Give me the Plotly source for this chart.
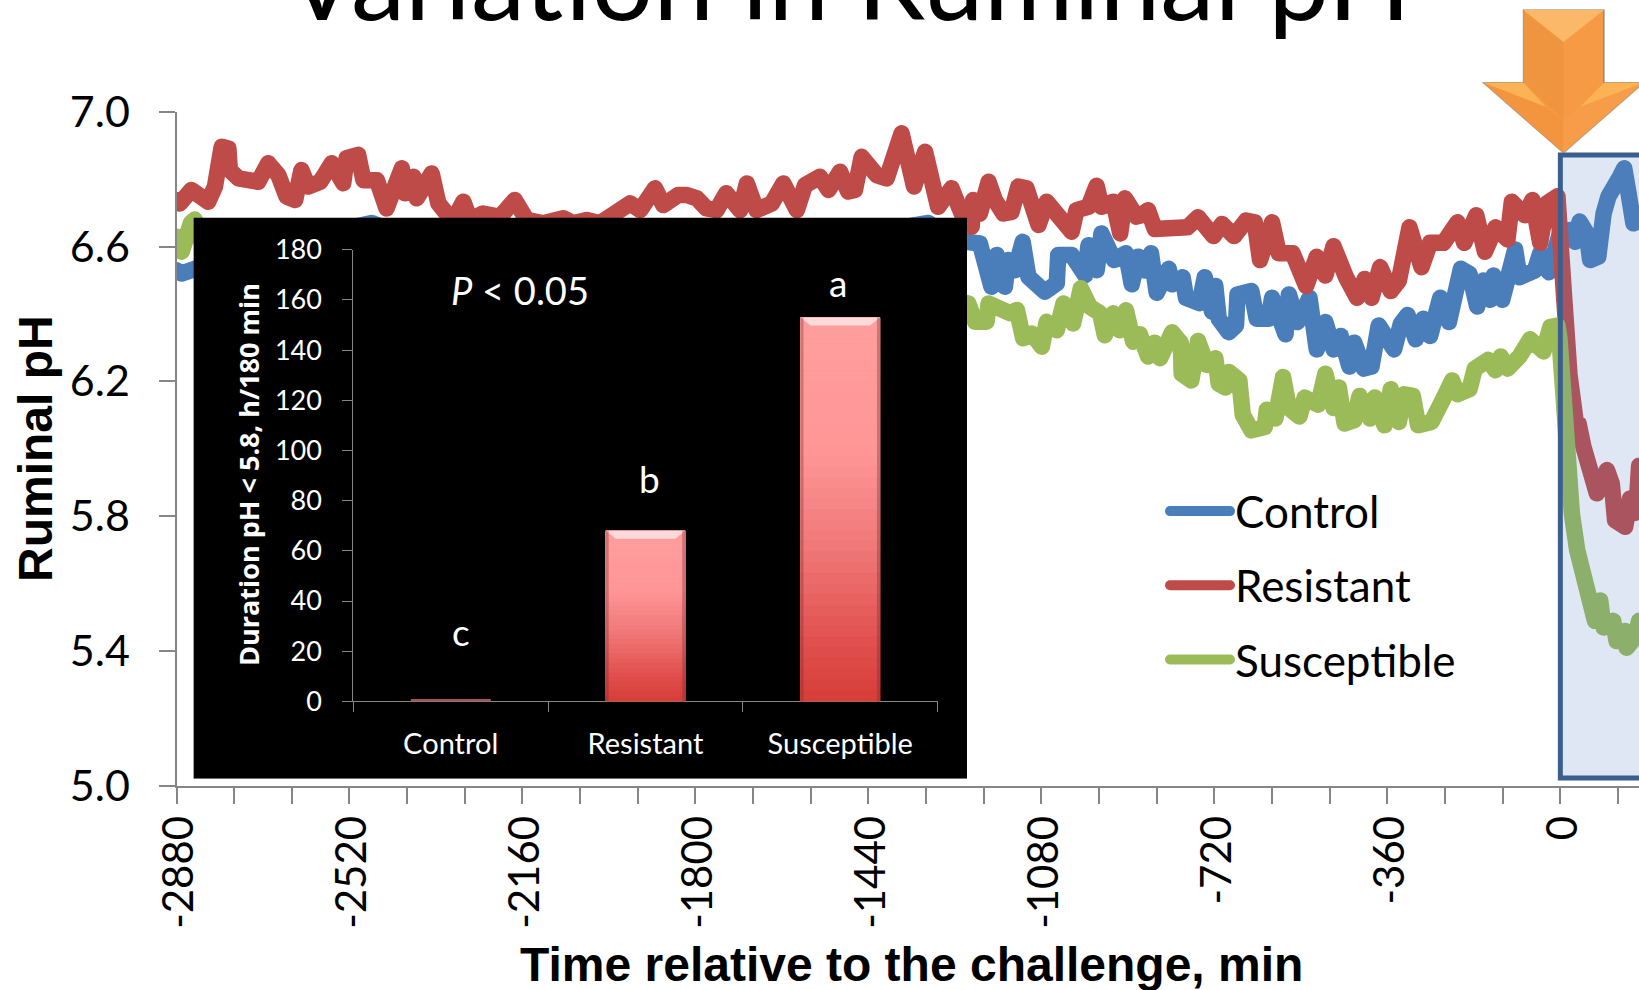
import plotly.graph_objects as go

# ---- data ----
control_t = [-2881,-2869,-2849,-2700,-2474,-2300,-1800,-1315,-1270,-1232,-1208,-1184,-1173,-1156,-1149,-1135,-1119,-1107,-1073,-1048,-1045,-1017,-989,-982,-965,-955,-937,-929,-904,-892,-879,-865,-852,-840,-815,-808,-786,-779,-751,-740,-725,-718,-711,-690,-675,-672,-643,-632,-607,-600,-572,-565,-547,-522,-507,-489,-472,-457,-439,-429,-409,-393,-378,-346,-332,-318,-301,-285,-271,-250,-232,-207,-189,-173,-160,-146,-139,-121,-94,-85,-53,-42,-24,-10,-1,20,31,40,55,62,79,90,100,124,133,142,152,164]
control_ph = [6.53,6.52,6.53,6.60,6.67,6.58,6.55,6.67,6.62,6.609,6.609,6.481,6.575,6.481,6.560,6.530,6.614,6.510,6.466,6.491,6.575,6.575,6.515,6.604,6.530,6.639,6.570,6.560,6.580,6.488,6.570,6.529,6.580,6.463,6.534,6.488,6.509,6.448,6.432,6.509,6.407,6.483,6.386,6.346,6.366,6.458,6.468,6.386,6.386,6.448,6.340,6.458,6.376,6.448,6.295,6.376,6.295,6.335,6.244,6.315,6.238,6.244,6.366,6.295,6.371,6.397,6.325,6.386,6.335,6.448,6.376,6.534,6.519,6.422,6.499,6.442,6.514,6.442,6.591,6.509,6.529,6.580,6.524,6.601,6.639,6.649,6.614,6.674,6.639,6.560,6.570,6.698,6.748,6.807,6.832,6.758,6.669,6.679]

resistant_t = [-2881,-2873,-2849,-2831,-2814,-2800,-2786,-2772,-2769,-2751,-2734,-2710,-2689,-2668,-2651,-2633,-2620,-2606,-2581,-2557,-2533,-2526,-2502,-2491,-2463,-2450,-2443,-2411,-2405,-2387,-2380,-2349,-2335,-2318,-2300,-2283,-2269,-2242,-2207,-2176,-2151,-2117,-2075,-2054,-2026,-1999,-1964,-1936,-1915,-1884,-1867,-1836,-1818,-1797,-1777,-1756,-1736,-1707,-1693,-1673,-1641,-1617,-1589,-1572,-1541,-1523,-1499,-1482,-1468,-1454,-1423,-1402,-1371,-1360,-1345,-1322,-1305,-1295,-1267,-1246,-1225,-1222,-1208,-1190,-1177,-1159,-1142,-1128,-1111,-1086,-1069,-1041,-1017,-1007,-982,-965,-955,-930,-916,-906,-882,-872,-858,-844,-822,-804,-776,-754,-733,-722,-704,-679,-654,-636,-625,-600,-586,-557,-529,-507,-489,-472,-446,-423,-407,-393,-375,-353,-336,-314,-289,-271,-243,-214,-200,-175,-157,-135,-110,-101,-74,-58,-42,-28,-6,-1,8,19,33,38,48,55,69,76,97,107,114,135,145,155,160,164]
resistant_ph = [6.738,6.728,6.768,6.748,6.733,6.778,6.896,6.891,6.827,6.802,6.797,6.792,6.847,6.812,6.748,6.738,6.827,6.778,6.792,6.847,6.788,6.862,6.872,6.797,6.797,6.738,6.713,6.832,6.758,6.807,6.743,6.817,6.728,6.698,6.688,6.733,6.679,6.698,6.688,6.738,6.679,6.669,6.684,6.669,6.679,6.669,6.698,6.728,6.708,6.773,6.723,6.753,6.753,6.743,6.713,6.708,6.758,6.708,6.787,6.708,6.728,6.787,6.708,6.782,6.807,6.768,6.822,6.763,6.768,6.866,6.812,6.802,6.936,6.871,6.778,6.881,6.787,6.718,6.773,6.698,6.659,6.738,6.698,6.792,6.738,6.698,6.703,6.778,6.773,6.664,6.733,6.679,6.644,6.708,6.718,6.780,6.718,6.733,6.639,6.743,6.689,6.693,6.708,6.652,6.657,6.654,6.657,6.687,6.657,6.631,6.667,6.631,6.677,6.672,6.560,6.672,6.580,6.580,6.483,6.570,6.514,6.601,6.509,6.448,6.504,6.448,6.539,6.468,6.499,6.657,6.539,6.611,6.611,6.672,6.611,6.693,6.585,6.657,6.621,6.733,6.693,6.738,6.611,6.728,6.749,6.58,6.447,6.22,6.07,6.075,6.006,5.957,5.907,5.868,5.937,5.897,5.788,5.769,5.853,5.81,5.86,5.95]

susceptible_t = [-2881,-2869,-2850,-2842,-2825,-2600,-2300,-1900,-1500,-1260,-1232,-1218,-1194,-1190,-1166,-1145,-1131,-1118,-1100,-1079,-1069,-1048,-1034,-1014,-998,-979,-958,-948,-930,-917,-904,-889,-875,-858,-844,-833,-808,-790,-788,-768,-754,-736,-718,-711,-697,-690,-668,-661,-643,-615,-611,-593,-577,-565,-543,-532,-504,-489,-472,-461,-449,-429,-418,-396,-386,-366,-353,-336,-325,-307,-296,-268,-243,-225,-214,-189,-178,-150,-135,-124,-110,-85,-63,-35,-21,-6,-2,4,12,24,35,49,58,72,83,90,110,117,135,138,155,164]
susceptible_ph = [6.63,6.585,6.67,6.68,6.60,6.55,6.50,6.47,6.45,6.44,6.431,6.377,6.377,6.431,6.417,6.402,6.412,6.328,6.342,6.303,6.377,6.352,6.431,6.372,6.476,6.421,6.402,6.337,6.402,6.352,6.411,6.318,6.340,6.274,6.315,6.269,6.346,6.315,6.223,6.203,6.320,6.249,6.269,6.193,6.182,6.228,6.203,6.101,6.055,6.065,6.116,6.090,6.213,6.121,6.096,6.152,6.131,6.223,6.121,6.182,6.075,6.085,6.157,6.090,6.152,6.070,6.177,6.080,6.162,6.157,6.070,6.080,6.150,6.203,6.162,6.177,6.238,6.264,6.233,6.274,6.238,6.274,6.325,6.289,6.361,6.366,6.33,6.154,6.006,5.808,5.70,5.61,5.54,5.49,5.55,5.47,5.49,5.43,5.46,5.41,5.44,5.49]

inset_categories = ["Control", "Resistant", "Susceptible"]
inset_minutes = [1, 68, 153]
inset_letters = ["c", "b", "a"]
inset_letter_heights = [28, 89, 167]

x_ticks = list(range(-2880, 161, 120))
y_ticks = [5.0, 5.4, 5.8, 6.2, 6.6, 7.0]
inset_ticks = list(range(0, 181, 20))

# ---- page geometry (pixels) ----
W, H = 1639, 990
def px(x): return x / W
def py(y): return 1 - y / H

BLUE, RED, GREEN = "#4A7EBB", "#BE4B48", "#9BBB59"
GREY = "#868686"
BODY = "Lato"
HEAD = "Liberation Sans"

fig = go.Figure()
for name, t, ph, col in [("Control", control_t, control_ph, BLUE),
                         ("Resistant", resistant_t, resistant_ph, RED),
                         ("Susceptible", susceptible_t, susceptible_ph, GREEN)]:
    fig.add_trace(go.Scatter(x=t, y=ph, name=name, mode="lines", legendgroup=name,
                             line=dict(color=col, width=16.5), hoverinfo="skip",
                             xaxis="x", yaxis="y"))

# black panel of the inset: a filled trace on its own subplot, above the main lines
fig.add_trace(go.Scatter(x=[0, 1, 1, 0, 0], y=[0, 0, 1, 1, 0], mode="none", fill="toself",
                         fillcolor="#000000", showlegend=False, hoverinfo="skip",
                         xaxis="x2", yaxis="y2"))
fig.add_trace(go.Bar(x=inset_categories, y=inset_minutes, marker=dict(color="#F07878", line=dict(width=0)),
                     showlegend=False, hoverinfo="skip", xaxis="x3", yaxis="y3"))

# ---- layout ----
tick_text = [str(v) if v % 360 == 0 else "" for v in x_ticks]
fig.update_layout(
    width=W, height=H, autosize=False, margin=dict(l=0, r=0, t=0, b=0, pad=0),
    paper_bgcolor="white", plot_bgcolor="rgba(0,0,0,0)", font=dict(family=BODY, color="black"),
    bargap=0.592, hovermode=False, dragmode=False,
    title=dict(text="Variation in Ruminal pH", x=px(848), xanchor="center", y=py(20), yanchor="bottom",
               font=dict(family=BODY, size=109, color="black")),
    xaxis=dict(domain=[px(176.5), 1], range=[-2880, 163.7], tickmode="array", tickvals=x_ticks,
               ticktext=tick_text, tickangle=-90, ticks="outside", ticklen=16, tickwidth=2, tickcolor=GREY,
               showline=True, linecolor=GREY, linewidth=2, showgrid=False, zeroline=False, automargin=False,
               ticklabelstandoff=-5, ticklabelshift=3, tickfont=dict(family=BODY, size=42), anchor="y"),
    yaxis=dict(domain=[py(786), py(111.7)], range=[5, 7], tickmode="array", tickvals=y_ticks,
               ticktext=[f"{v:.1f}" for v in y_ticks], ticks="outside", ticklen=16, tickwidth=2, tickcolor=GREY,
               showline=True, linecolor=GREY, linewidth=2, showgrid=False, zeroline=False, automargin=False,
               ticklabelstandoff=20, tickfont=dict(family=BODY, size=43), anchor="x"),
    xaxis2=dict(domain=[px(193.4), px(967)], range=[0, 1], visible=False, anchor="y2", automargin=False),
    yaxis2=dict(domain=[py(778.7), py(217.4)], range=[0, 1], visible=False, anchor="x2", automargin=False),
    xaxis3=dict(domain=[px(353.3), px(937.6)], type="category", categoryorder="array",
                categoryarray=inset_categories, range=[-0.5, 2.5], tickson="boundaries",
                ticks="outside", ticklen=10, tickwidth=1, tickcolor=GREY, showline=True, linecolor=GREY,
                linewidth=1, showgrid=False, zeroline=False, ticklabelstandoff=17, automargin=False,
                tickfont=dict(family=BODY, size=29, color="white"), anchor="y3"),
    yaxis3=dict(domain=[py(701.4), py(249.8)], range=[0, 180], tickmode="array", tickvals=inset_ticks,
                ticks="outside", ticklen=10, tickwidth=1, tickcolor=GREY, showline=True, linecolor=GREY,
                linewidth=1, showgrid=False, zeroline=False, ticklabelstandoff=15, automargin=False,
                tickfont=dict(family=BODY, size=27, color="white"), anchor="x3"),
    legend=dict(x=px(1165), y=py(476), xanchor="left", yanchor="top", bgcolor="rgba(0,0,0,0)",
                font=dict(family=BODY, size=44, color="black"), itemwidth=60, tracegroupgap=14,
                itemclick=False, itemdoubleclick=False),
)

# ---- gradient and bevel on the inset bars, derived from the bar values ----
STOPS = [(0.0, (255, 158, 158)), (0.35, (255, 150, 150)), (0.6, (240, 120, 120)),
         (0.85, (224, 80, 78)), (1.0, (214, 62, 56))]
def grad(f):
    for (a, ca), (b, cb) in zip(STOPS, STOPS[1:]):
        if f <= b:
            u = (f - a) / (b - a)
            return "rgb(%d,%d,%d)" % tuple(round(p + (q - p) * u) for p, q in zip(ca, cb))
    return "rgb(214,62,56)"

shapes = []
half = (1 - 0.592) / 2
BANDS = 36
UNIT_PER_PX = 180 / 451.6
XUNIT_PER_PX = 3 / 584.3
for i, v in enumerate(inset_minutes):
    left, right = i - half, i + half
    if v <= 10:
        shapes.append(dict(type="rect", xref="x3", yref="y3", x0=left, x1=right, y0=0, y1=v,
                           fillcolor="#A85050", line=dict(width=0), layer="above"))
        continue
    for k in range(BANDS):
        shapes.append(dict(type="rect", xref="x3", yref="y3", x0=left, x1=right,
                           y0=v * (1 - (k + 1) / BANDS), y1=v * (1 - k / BANDS),
                           fillcolor=grad((k + 0.5) / BANDS), line=dict(width=1, color=grad((k + 0.5) / BANDS)),
                           layer="above"))
    dy, dx = 8 * UNIT_PER_PX, 10 * XUNIT_PER_PX
    shapes.append(dict(type="path", xref="x3", yref="y3",
                       path=f"M{left},{v} L{right},{v} L{right-dx},{v-dy} L{left+dx},{v-dy} Z",
                       fillcolor="rgba(255,228,228,0.85)", line=dict(width=0), layer="above"))
    ex = 3 * XUNIT_PER_PX
    for a, b in [(left, left + ex), (right - ex, right)]:
        shapes.append(dict(type="rect", xref="x3", yref="y3", x0=a, x1=b, y0=0, y1=v,
                           fillcolor="rgba(120,40,40,0.35)", line=dict(width=0), layer="above"))

# ---- highlight frame over the post-challenge period ----
shapes.append(dict(type="rect", xref="x", yref="paper", x0=0, x1=400, y0=py(778), y1=py(155),
                   fillcolor="rgba(79,129,189,0.19)", line=dict(color="#3A5F8F", width=5), layer="above"))

# ---- orange block arrow ----
def poly(points, fill, line=None):
    path = "M" + " L".join(f"{px(x):.5f},{py(y):.5f}" for x, y in points) + " Z"
    return dict(type="path", xref="paper", yref="paper", path=path, fillcolor=fill,
                line=line or dict(width=0), layer="above")

tipx, tipy = 1563.5, 152.7
shaft_l, shaft_r, top, shoulder = 1523.5, 1604, 10, 82.7
wing_l, wing_r = 1483.5, 1643.5
shapes += [
    poly([(shaft_l, top), (shaft_r, top), (shaft_r, shoulder), (wing_r, shoulder), (tipx, tipy),
          (wing_l, shoulder), (shaft_l, shoulder)], "#F79A45", dict(color="rgba(110,95,75,0.55)", width=1.5)),
    poly([(shaft_l, top), (tipx, 42), (tipx, 120), (shaft_l, 82.7)], "#F0953F"),
    poly([(shaft_l, top), (shaft_r, top), (tipx, 42)], "#FBB868"),
    poly([(wing_l, shoulder), (shaft_l, shoulder), (1546, 107)], "#FBB356"),
    poly([(shaft_r, shoulder), (wing_r, shoulder), (1580, 107)], "#FBB356"),
    poly([(wing_l, shoulder), (1546, 107), (tipx, 120), (tipx, tipy)], "#F3953F"),
    poly([(wing_r, shoulder), (1580, 107), (tipx, 120), (tipx, tipy)], "#F79D4A"),
]
fig.update_layout(shapes=shapes)

# ---- annotations ----
CENTER = dict(xanchor="center", yanchor="middle", showarrow=False)
ann = [
    dict(text="Ruminal pH", xref="paper", yref="paper", x=px(36), y=py(449), textangle=-90, **CENTER,
         font=dict(family=HEAD, size=48, color="black", weight="bold")),
    dict(text="Time relative to the challenge, min", xref="paper", yref="paper", x=px(911), y=py(964), **CENTER,
         font=dict(family=HEAD, size=48, color="black", weight="bold")),
    dict(text="Duration pH &lt; 5.8, h/180 min", xref="paper", yref="paper", x=px(248), y=py(475),
         textangle=-90, **CENTER, font=dict(family="Open Sans", size=27, color="white", weight="bold")),
    dict(text="<i>P</i> &lt; 0.05", xref="paper", yref="paper", x=px(520), y=py(290), **CENTER,
         font=dict(family=BODY, size=38, color="white")),
]
for cat, h, letter, shift in zip(inset_categories, inset_letter_heights, inset_letters, [10, 4, -2]):
    ann.append(dict(text=letter, xref="x3", yref="y3", x=cat, y=h, xshift=shift, **CENTER,
                    font=dict(family=BODY, size=37, color="white")))
fig.update_layout(annotations=ann)

ROUND = ("document.body.style.margin='0';document.body.style.overflow='hidden';"
         "document.querySelectorAll('.js-line').forEach(function(p){"
         "p.style.strokeLinejoin='round';p.style.strokeLinecap='round';});")
fig.write_html("out.html", config={"displayModeBar": False}, post_script=ROUND)
